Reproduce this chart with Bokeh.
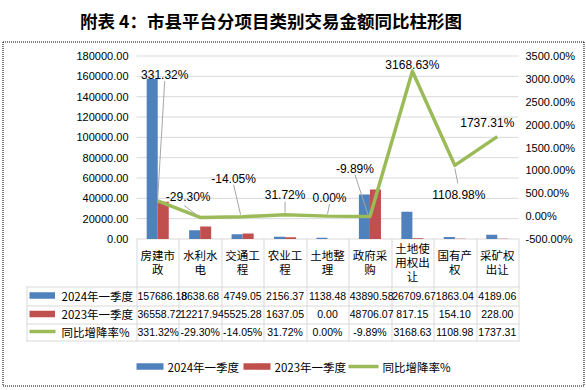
from bokeh.plotting import figure
from bokeh.models import (Range1d, LinearAxis, FixedTicker, PrintfTickFormatter, ColumnDataSource)
from bokeh.core.properties import value
from bokeh.embed import file_html
from bokeh.resources import INLINE

# ---------------- data ----------------
title_text = "附表 4：市县平台分项目类别交易金额同比柱形图"
categories = ["房建市政", "水利水电", "交通工程", "农业工程", "土地整理",
              "政府采购", "土地使用权出让", "国有产权", "采矿权出让"]
series_names = ["2024年一季度", "2023年一季度", "同比增降率%"]
q1_2024 = [157686.18, 8638.68, 4749.05, 2156.37, 1138.48, 43890.58, 26709.67, 1863.04, 4189.06]
q1_2023 = [36558.72, 12217.94, 5525.28, 1637.05, 0.00, 48706.07, 817.15, 154.10, 228.00]
yoy_pct = [331.32, -29.30, -14.05, 31.72, 0.00, -9.89, 3168.63, 1108.98, 1737.31]
left_ticks = [0, 20000, 40000, 60000, 80000, 100000, 120000, 140000, 160000, 180000]
right_ticks = [-500, 0, 500, 1000, 1500, 2000, 2500, 3000, 3500]

# ---------------- style / layout ----------------
BLUE, RED, GREEN = "#4f81bd", "#c0504d", "#9bbb59"
GRID, LEADER = "#d9d9d9", "#a6a6a6"
LATIN, CJK = "Liberation Sans", "Noto Sans CJK SC"

W, H = 586, 390
FL, FR = 136, 518               # plot-area left / right (px)
TOP_PY, ZERO_PY = 55.5, 238.5   # pixel rows of highest / lowest tick
N = len(categories)
PPU = (FR - FL) / N
LEFT_MAX = left_ticks[-1]
PMIN, PMAX = right_ticks[0], right_ticks[-1]
K = LEFT_MAX / (ZERO_PY - TOP_PY)
KP = (PMAX - PMIN) / (ZERO_PY - TOP_PY)


def X(px):
    return (px - FL) / PPU


def Y(py):
    return (ZERO_PY - py) * K


def P(py):
    return PMIN + (ZERO_PY - py) * KP


# label placement (pixel offsets from each point, y down)
LABEL_OFFSETS = [(7, -126), (-12, -20), (-9, -38), (0, -20), (2, -18),
                 (-15, -48), (0, -6), (4, 30), (-10, -14)]
LEADERS = {0: ((7, -120), (0, -3)), 1: ((-16, -12), (-3, -2)), 2: ((-9, -32), (-2, -2)),
           3: ((0, -13), (0, -2)), 4: ((2, -12), (0, -2)), 5: ((-15, -42), (-2, -2)),
           7: ((3, 18), (0, 3))}

p = figure(width=W, height=H, output_backend="svg", toolbar_location=None,
           x_range=Range1d(X(0), X(W)), y_range=Range1d(Y(H), Y(0)),
           x_axis_location=None, y_axis_location=None,
           min_border_left=0, min_border_right=0, min_border_top=0, min_border_bottom=0)
p.outline_line_color = None
p.background_fill_color = "white"
p.border_fill_color = "white"
p.xgrid.visible = False
p.ygrid.visible = False
p.extra_y_ranges = {"pct": Range1d(P(H), P(0))}

lax = LinearAxis(ticker=FixedTicker(ticks=left_ticks), formatter=PrintfTickFormatter(format="%.2f"),
                 fixed_location=0)
rax = LinearAxis(y_range_name="pct", ticker=FixedTicker(ticks=right_ticks),
                 formatter=PrintfTickFormatter(format="%.2f%%"), fixed_location=N)
p.add_layout(lax, "left")
p.add_layout(rax, "right")
for ax, so in ((lax, 8), (rax, 7)):
    ax.axis_line_color = None
    ax.major_tick_line_color = None
    ax.minor_tick_line_color = None
    ax.major_tick_out = 0
    ax.major_tick_in = 0
    ax.minor_tick_out = 0
    ax.major_label_standoff = so
    ax.major_label_text_font = LATIN
    ax.major_label_text_font_size = "11px"
    ax.major_label_text_color = "#000000"

# horizontal gridlines over the plot area only
p.segment(x0=[0] * len(left_ticks), x1=[N] * len(left_ticks), y0=left_ticks, y1=left_ticks,
          line_color=GRID, line_width=1)

xc = [i + 0.5 for i in range(N)]
src = ColumnDataSource(dict(xc=xc, x24=[c - 0.13 for c in xc], x23=[c + 0.13 for c in xc],
                            q24=q1_2024, q23=q1_2023, pct=yoy_pct))
p.vbar(x="x24", top="q24", width=0.26, source=src, fill_color=BLUE, line_color=None)
p.vbar(x="x23", top="q23", width=0.26, source=src, fill_color=RED, line_color=None)
p.line(x="xc", y="pct", source=src, y_range_name="pct", line_color=GREEN,
       line_width=3.5, line_join="round")

# leader lines
lx0, ly0, lx1, ly1 = [], [], [], []
for i, ((sx, sy), (ex, ey)) in LEADERS.items():
    lx0.append(xc[i] + sx / PPU)
    ly0.append(yoy_pct[i] - sy * KP)
    lx1.append(xc[i] + ex / PPU)
    ly1.append(yoy_pct[i] - ey * KP)
p.segment(x0=lx0, y0=ly0, x1=lx1, y1=ly1, y_range_name="pct", line_color=LEADER, line_width=1)

lab = ColumnDataSource(dict(x=xc, y=yoy_pct, text=[f"{v:.2f}%" for v in yoy_pct],
                            dx=[o[0] for o in LABEL_OFFSETS], dy=[o[1] for o in LABEL_OFFSETS]))
p.text(x="x", y="y", text="text", x_offset="dx", y_offset="dy", source=lab,
       y_range_name="pct", text_font=value(LATIN), text_font_size="12px",
       text_align="center", text_baseline="middle", text_color="#000000")

# ---------------- data table ----------------
TABLE_LEFT = 26
ROW_LINES = [286, 305, 323, 340]
HEADER_TOP = 238
hx0, hy0, hx1, hy1 = [], [], [], []
for ry in ROW_LINES:
    hx0.append(X(TABLE_LEFT)); hx1.append(X(FR + 1))
    hy0.append(Y(ry + 0.5)); hy1.append(Y(ry + 0.5))
hx0.append(X(TABLE_LEFT + 0.5)); hx1.append(X(TABLE_LEFT + 0.5))
hy0.append(Y(ROW_LINES[0])); hy1.append(Y(ROW_LINES[-1] + 1))
for k in range(N + 1):
    vx = round(FL + k * PPU) + 0.5
    hx0.append(X(vx)); hx1.append(X(vx))
    hy0.append(Y(HEADER_TOP)); hy1.append(Y(ROW_LINES[-1] + 1))
p.segment(x0=hx0, y0=hy0, x1=hx1, y1=hy1, line_color=GRID, line_width=1)

# header (category names, wrapped every 3 characters, one text per line)
HDR_C, HDR_LH = 261.5, 14
hx, hy, ht = [], [], []
for i, c in enumerate(categories):
    parts = [c[j:j + 3] for j in range(0, len(c), 3)]
    for k, part in enumerate(parts):
        hx.append(xc[i])
        hy.append(Y(HDR_C + (k - (len(parts) - 1) / 2) * HDR_LH))
        ht.append(part)
p.text(x=hx, y=hy, text=ht, text_align="center", text_baseline="middle",
       text_font=value(CJK), text_font_size="11.5px", text_color="#000000")

row_c = [(ROW_LINES[r] + ROW_LINES[r + 1]) / 2 - 0.5 for r in range(3)]
CW = {".": .278, "%": .889, "-": .333}
TFS = 10.5
rows_text = [[f"{v:.2f}" for v in q1_2024], [f"{v:.2f}" for v in q1_2023],
             [f"{v:.2f}%" if abs(v) < 1000 else f"{v:.2f}" for v in yoy_pct]]
cells = {"left": dict(x=[], y=[], text=[]), "center": dict(x=[], y=[], text=[])}
for r, texts in enumerate(rows_text):
    for i, t in enumerate(texts):
        w = sum(CW.get(ch, .556) for ch in t) * TFS
        if w > PPU - 2:
            d, cx = cells["left"], i + 1 / PPU
        else:
            d, cx = cells["center"], i + 0.5
        d["x"].append(cx); d["y"].append(Y(row_c[r])); d["text"].append(t)
for al, d in cells.items():
    p.text(x="x", y="y", text="text", source=ColumnDataSource(d), text_align=al,
           text_baseline="middle", text_font=value(LATIN), text_font_size=f"{TFS}px",
           text_color="#000000")

# table legend keys + series names
p.quad(left=[X(29)] * 2, right=[X(54.5)] * 2,
       top=[Y(row_c[0] - 3.3), Y(row_c[1] - 3.3)], bottom=[Y(row_c[0] + 3.3), Y(row_c[1] + 3.3)],
       fill_color=[BLUE, RED], line_color=None)
p.segment(x0=[X(29)], x1=[X(55)], y0=[Y(row_c[2])], y1=[Y(row_c[2])], line_color=GREEN, line_width=3.5)
p.text(x=[X(61)] * 3, y=[Y(c) for c in row_c], text=series_names, text_align="left",
       text_baseline="middle", text_font=value(CJK), text_font_size="11.5px", text_color="#000000")

# bottom legend
LEG_Y = 366
LEG_KEYS = [(136, 27), (243, 27), (348, 30)]
p.quad(left=[X(k[0]) for k in LEG_KEYS[:2]], right=[X(k[0] + k[1]) for k in LEG_KEYS[:2]],
       top=[Y(LEG_Y - 3.3)] * 2, bottom=[Y(LEG_Y + 3.3)] * 2, fill_color=[BLUE, RED], line_color=None)
p.segment(x0=[X(LEG_KEYS[2][0])], x1=[X(LEG_KEYS[2][0] + LEG_KEYS[2][1])], y0=[Y(LEG_Y)], y1=[Y(LEG_Y)],
          line_color=GREEN, line_width=3.5)
p.text(x=[X(k[0] + k[1] + 4) for k in LEG_KEYS], y=[Y(LEG_Y)] * 3, text=series_names,
       text_align="left", text_baseline="middle", text_font=value(CJK), text_font_size="11.5px",
       text_color="#000000")

# title
p.text(x=[X(270.5)], y=[Y(19.5)], text=[title_text], text_align="center", text_baseline="middle",
       text_font=value(CJK), text_font_size="17.5px", text_font_style="bold", text_color="#000000")

# dotted chart border
BL, BR, BT, BB = 2.5, 583.5, 41.5, 385.5
p.segment(x0=[X(BL), X(BR), X(BL), X(BL)], y0=[Y(BT), Y(BT), Y(BB), Y(BT)],
          x1=[X(BR), X(BR), X(BR), X(BL)], y1=[Y(BT), Y(BB), Y(BB), Y(BB)],
          line_color="#000000", line_width=1, line_dash="1 1")

open("out.html", "w").write(file_html(p, INLINE))
